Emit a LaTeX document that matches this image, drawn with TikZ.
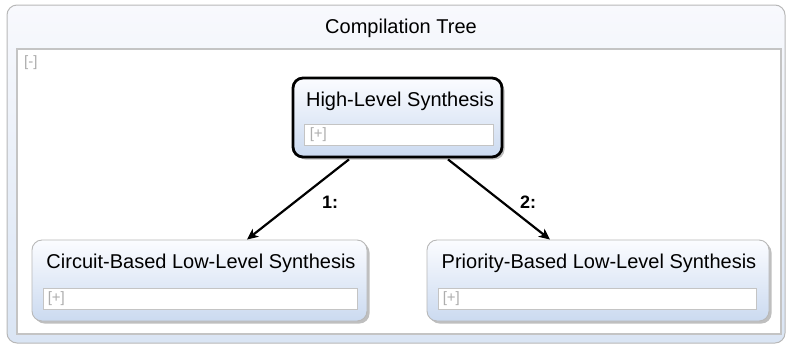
\documentclass[tikz,border=0pt]{standalone}
\usepackage{fontspec}
\setmainfont{Liberation Sans}
\usetikzlibrary{shadows,arrows.meta,calc}

\definecolor{framegray}{HTML}{B8B8B8}
\definecolor{paneltop}{HTML}{F8F9FD}
\definecolor{panelbot}{HTML}{DAE5F4}
\definecolor{boxtop}{HTML}{FBFCFF}
\definecolor{boxbot}{HTML}{CBDAF0}
\definecolor{hintgray}{HTML}{ADADAD}
\definecolor{fieldgray}{HTML}{C4C4C4}

\tikzset{
  treebox/.style={rectangle, rounded corners=10pt, draw=framegray, line width=0.9pt,
    top color=boxtop, bottom color=boxbot, inner sep=0pt,
    drop shadow={shadow xshift=2.5pt, shadow yshift=-2.5pt, fill=black!55, opacity=0.45}},
  activebox/.style={treebox, draw=black, line width=2.8pt},
  boxtitle/.style={inner sep=0pt, font=\fontsize{20}{23}\selectfont, text=black},
  fieldbox/.style={rectangle, draw=fieldgray, line width=0.9pt, fill=white,
    minimum height=21pt, inner sep=0pt},
  hint/.style={inner sep=0pt, font=\fontsize{15}{17}\selectfont, text=hintgray, anchor=west},
  edgelabel/.style={inner sep=0pt, font=\fontsize{18}{20}\selectfont\bfseries},
  treeedge/.style={line width=2.2pt, -{Stealth[length=11pt,width=10pt,inset=3pt]}}
}

\begin{document}
\begin{tikzpicture}[x=1pt,y=-1pt]
  \useasboundingbox (0,0) rectangle (791,346);

  % outer container with its title
  \shade[rounded corners=10pt, top color=paneltop, bottom color=panelbot]
    (7,5) rectangle (785,343);
  \draw[rounded corners=10pt, draw=framegray, line width=1pt] (7,5) rectangle (785,343);
  \node[boxtitle] (title) at (401,28) {Compilation Tree};

  % content area
  \draw[fill=white, draw=fieldgray, line width=1.2pt] (17,49) rectangle (781,334);
  \node[hint] (collapse) at (24,63) {[-]};

  % High-Level Synthesis (selected)
  \node[activebox, minimum width=209pt, minimum height=79pt] (hls) at (397.5,117.5) {};
  \node[boxtitle] (hlst) at (400,101) {High-Level Synthesis};
  \node[fieldbox, minimum width=189pt] (hlsf) at (398.5,134.5) {};
  \node[hint] at ($(hlsf.west)+(6,0.5)$) {[+]};

  % Circuit-Based Low-Level Synthesis
  \node[treebox, minimum width=335pt, minimum height=81pt] (cb) at (199.5,280.5) {};
  \node[boxtitle] (cbt) at (201,263) {Circuit-Based Low-Level Synthesis};
  \node[fieldbox, minimum width=314pt] (cbf) at (200,298.5) {};
  \node[hint] at ($(cbf.west)+(5,0.5)$) {[+]};

  % Priority-Based Low-Level Synthesis
  \node[treebox, minimum width=342pt, minimum height=81pt] (pb) at (598,280.5) {};
  \node[boxtitle] (pbt) at (599,263) {Priority-Based Low-Level Synthesis};
  \node[fieldbox, minimum width=318pt] (pbf) at (597,298.5) {};
  \node[hint] at ($(pbf.west)+(5,0.5)$) {[+]};

  % connectors
  \draw[treeedge] ($(hls.south)+(-48.5,1)$) -- ($(cb.north)+(47.5,0)$);
  \draw[treeedge] ($(hls.south)+(50.5,1)$) -- ($(pb.north)+(-48,0)$);
  \node[edgelabel] (l1) at (330,202) {1:};
  \node[edgelabel] (l2) at (528,202) {2:};
\end{tikzpicture}
\end{document}
